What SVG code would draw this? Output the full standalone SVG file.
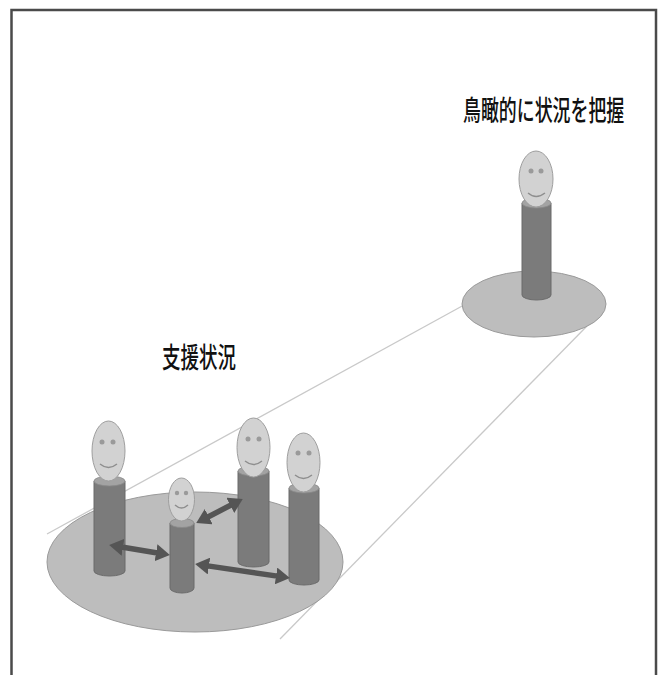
<svg xmlns="http://www.w3.org/2000/svg" width="662" height="675" viewBox="0 0 662 675">
  <defs>
    <style>
      .frame { fill: none; stroke: #4a4a4a; stroke-width: 2.5; }
      .sight { stroke: #c9c9c9; stroke-width: 1.3; fill: none; }
      .ground { fill: #bdbdbd; stroke: #9a9a9a; stroke-width: 1; }
      .body { fill: #7b7b7b; stroke: #6b6b6b; stroke-width: 1; }
      .cap { fill: #a3a3a3; stroke: #8a8a8a; stroke-width: 0.8; }
      .head { fill: #d2d2d2; stroke: #9e9e9e; stroke-width: 1; }
      .eye { fill: #9a9a9a; }
      .smile { fill: none; stroke: #8e8e8e; stroke-width: 1.4; }
      .link { stroke: #555555; stroke-width: 5.5; marker-start: url(#head); marker-end: url(#head); }
      .label { font-family: "Noto Sans CJK JP", "Noto Sans", sans-serif; font-size: 28px; font-weight: 500; fill: #111111; }
    </style>
    <marker id="head" markerUnits="userSpaceOnUse" markerWidth="15" markerHeight="17" refX="3" refY="8.5" orient="auto-start-reverse">
      <path d="M0,0 L14,8.5 L0,17 Z" fill="#555555"/>
    </marker>
  </defs>

  <rect width="662" height="675" fill="#ffffff"/>
  <rect class="frame" x="11.5" y="10" width="644.5" height="700"/>

  <!-- lines of sight from the overview ring down to the support ring -->
  <g id="view-lines">
    <line class="sight" x1="47" y1="534" x2="464" y2="305"/>
    <line class="sight" x1="280" y1="639" x2="587" y2="326"/>
  </g>

  <!-- overview position -->
  <g id="overview">
    <ellipse class="ground" cx="534" cy="304" rx="72" ry="33"/>
    <path class="body" d="M522,203 L522,295 A14.5,5 0 0 0 551,295 L551,203 Z"/>
    <ellipse class="cap" cx="536.5" cy="203" rx="14.5" ry="5"/>
    <ellipse class="head" cx="536" cy="179" rx="17" ry="28"/>
    <circle class="eye" cx="531" cy="171" r="2.5"/>
    <circle class="eye" cx="541" cy="171" r="2.5"/>
    <path class="smile" d="M528,193 Q536,200 545,193"/>
    <text class="label" transform="translate(463,121) scale(0.64,1)" x="0" y="0">鳥瞰的に状況を把握</text>
  </g>

  <!-- support situation -->
  <g id="support-ground">
    <ellipse class="ground" cx="195" cy="562" rx="148" ry="70"/>
    <text class="label" transform="translate(162,368) scale(0.66,1)" x="0" y="0">支援状況</text>
  </g>

  <g id="person-a">
    <path class="body" d="M94,481 L94,571 A15.5,5 0 0 0 125,571 L125,481 Z"/>
    <ellipse class="cap" cx="109.5" cy="481" rx="15.5" ry="5"/>
    <ellipse class="head" cx="108.5" cy="451" rx="16.5" ry="30"/>
    <circle class="eye" cx="102" cy="442" r="2.5"/>
    <circle class="eye" cx="113" cy="442" r="2.5"/>
    <path class="smile" d="M100,464 Q108.5,471 117,464"/>
  </g>

  <g id="person-b">
    <path class="body" d="M170,523 L170,588 A12,5 0 0 0 194,588 L194,523 Z"/>
    <ellipse class="cap" cx="182" cy="523" rx="12" ry="4.5"/>
    <ellipse class="head" cx="181.5" cy="499.5" rx="13" ry="21.5"/>
    <circle class="eye" cx="177" cy="493" r="2.2"/>
    <circle class="eye" cx="186" cy="493" r="2.2"/>
    <path class="smile" d="M175,505 Q181.5,511 188,505"/>
  </g>

  <g id="person-c">
    <path class="body" d="M238,471 L238,562 A15.5,5 0 0 0 269,562 L269,471 Z"/>
    <ellipse class="cap" cx="253.5" cy="471" rx="15.5" ry="5"/>
    <ellipse class="head" cx="253.5" cy="447.5" rx="16.5" ry="29.5"/>
    <circle class="eye" cx="248" cy="439" r="2.5"/>
    <circle class="eye" cx="259" cy="439" r="2.5"/>
    <path class="smile" d="M245,461 Q253.5,468 262,461"/>
  </g>

  <g id="person-d">
    <path class="body" d="M289,488 L289,580 A15,5 0 0 0 319,580 L319,488 Z"/>
    <ellipse class="cap" cx="304" cy="488" rx="15" ry="5"/>
    <ellipse class="head" cx="303.5" cy="462.5" rx="16.5" ry="29.5"/>
    <circle class="eye" cx="298" cy="453" r="2.5"/>
    <circle class="eye" cx="309" cy="453" r="2.5"/>
    <path class="smile" d="M295,475 Q303.5,482 312,475"/>
  </g>

  <!-- two-way interactions between people -->
  <g id="connectors">
    <line class="link" x1="120" y1="546.8" x2="159" y2="553.2"/>
    <line class="link" x1="206" y1="518" x2="233" y2="504"/>
    <line class="link" x1="206" y1="565.6" x2="279" y2="576.4"/>
  </g>
</svg>
